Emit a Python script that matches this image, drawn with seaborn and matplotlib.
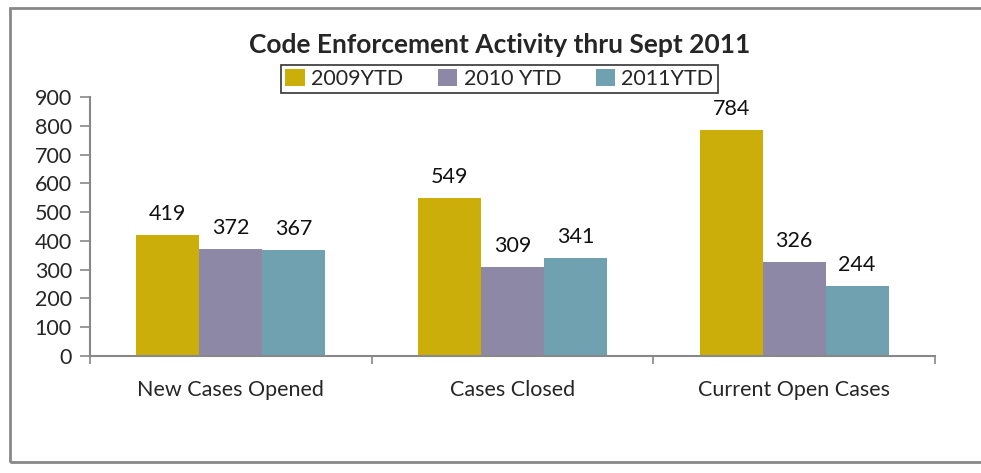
# gráfico de barras agrupadas - code enforcement

import pandas as pd
import seaborn as sns
import matplotlib.pyplot as plt
from matplotlib.patches import Rectangle

categorias = ["New Cases Opened", "Cases Closed", "Current Open Cases"]
series = ["2009YTD", "2010 YTD", "2011YTD"]
v2009 = [419, 549, 784]
v2010 = [372, 309, 326]
v2011 = [367, 341, 244]

cores = ["#CCAE0A", "#8C88A6", "#6FA1B1"]

df = pd.DataFrame({
    "categoria": categorias * 3,
    "serie": [series[0]] * 3 + [series[1]] * 3 + [series[2]] * 3,
    "valor": v2009 + v2010 + v2011,
})

sns.set_style("white")
plt.rcParams["font.family"] = ["Lato", "DejaVu Sans"]

fig = plt.figure(figsize=(9.81, 4.73), dpi=100)
ax = fig.add_axes([0.0917, 0.2474, 0.8614, 0.5476])

sns.barplot(data=df, x="categoria", y="valor", hue="serie", palette=cores,
            width=0.67, gap=0, saturation=1, linewidth=0, ax=ax, legend=True)

for c in ax.containers:
    ax.bar_label(c, padding=8, fontsize=15.5, color="#111111")

ax.set_ylim(0, 900)
ax.set_yticks(range(0, 901, 100))
ax.set_xlim(-0.5, 2.5)
ax.set_xlabel("")
ax.set_ylabel("")
ax.tick_params(axis="y", labelsize=15.5, length=7, width=1.2, color="#888888",
               direction="out", left=True, pad=6)
ax.tick_params(axis="x", labelsize=15.5, length=0, pad=17)
# ticks do eixo x entre categorias
ax.set_xticks([-0.5, 0.5, 1.5, 2.5], minor=True)
ax.tick_params(axis="x", which="minor", length=6, width=1.2, color="#888888", bottom=True)

for s in ["top", "right"]:
    ax.spines[s].set_visible(False)
for s in ["left", "bottom"]:
    ax.spines[s].set_color("#888888")
    ax.spines[s].set_linewidth(1.5)

fig.text(0.509, 0.905, "Code Enforcement Activity thru Sept 2011", ha="center", va="center",
         fontsize=19, fontweight="bold")

leg = ax.legend(loc="center", bbox_to_anchor=(0.509, 0.833), bbox_transform=fig.transFigure,
                ncol=3, frameon=True, fancybox=False, fontsize=15.5,
                handlelength=0.9, handleheight=0.8, handletextpad=0.3, columnspacing=1.6,
                borderpad=0.2)
leg.get_frame().set_edgecolor("#000000")
leg.get_frame().set_linewidth(1.2)

# borda do gráfico
fig.patches.append(Rectangle((0.0105, 0.023), 1.1, 0.96, transform=fig.transFigure,
                             fill=False, edgecolor="#888888", linewidth=2))

plt.savefig("out.png", dpi=100)
